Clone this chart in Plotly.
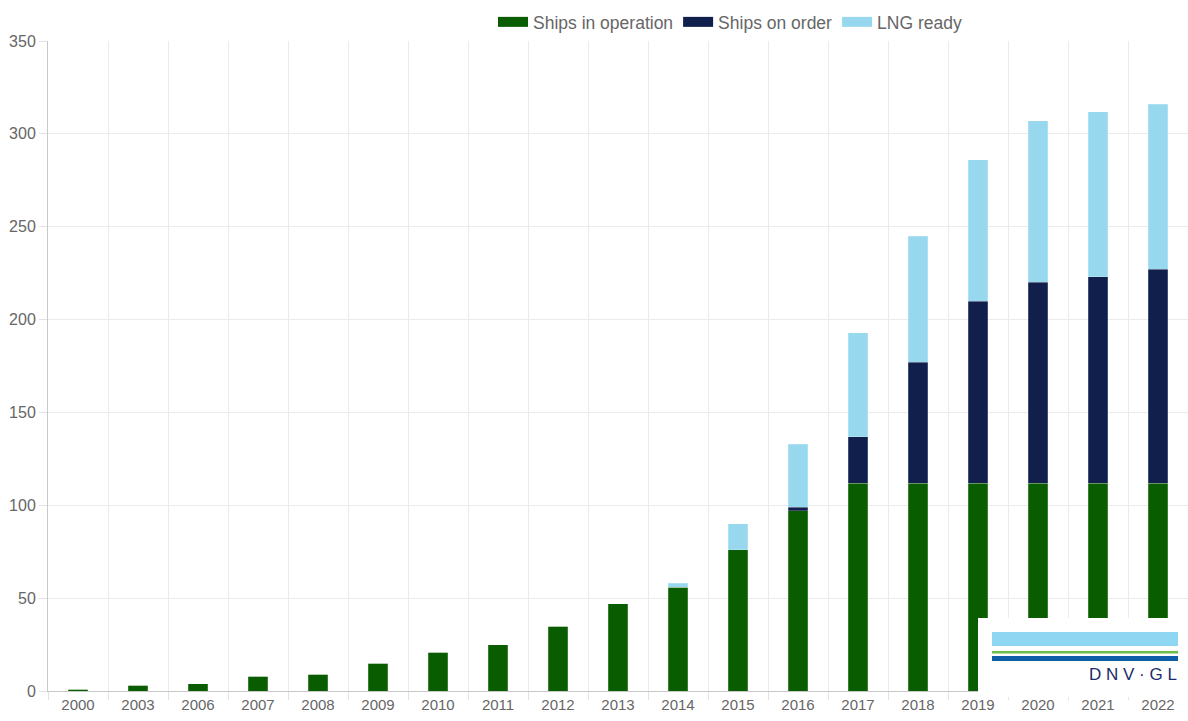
import plotly.graph_objects as go

years = ["2000", "2003", "2006", "2007", "2008", "2009", "2010", "2011", "2012", "2013",
         "2014", "2015", "2016", "2017", "2018", "2019", "2020", "2021", "2022"]
in_operation = [1, 3, 4, 8, 9, 15, 21, 25, 35, 47, 56, 76, 97, 112, 112, 112, 112, 112, 112]
on_order = [0, 0, 0, 0, 0, 0, 0, 0, 0, 0, 0, 0, 2, 25, 65, 98, 108, 111, 115]
lng_ready = [0, 0, 0, 0, 0, 0, 0, 0, 0, 0, 2, 14, 34, 56, 68, 76, 87, 89, 89]

series_names = ["Ships in operation", "Ships on order", "LNG ready"]
series_colors = ["#0a5c00", "#101f4c", "#98d8ef"]
series_values = [in_operation, on_order, lng_ready]

FONT = "Liberation Sans, Arial, sans-serif"
TXT = "#666666"

fig = go.Figure()
for name, color, vals in zip(series_names, series_colors, series_values):
    fig.add_trace(go.Bar(
        x=years, y=vals, name=name, legendgroup=name, showlegend=False,
        marker=dict(color=color, line=dict(color="rgba(255,255,255,0.35)", width=0.6)),
        hoverinfo="x+y+name",
    ))
# legend swatches (wide rectangles, as in the reference)
for name, color in zip(series_names, series_colors):
    fig.add_trace(go.Scatter(
        x=[None], y=[None], name=name, legendgroup=name, mode="lines",
        line=dict(color=color, width=16), showlegend=True,
    ))

# geometry helpers (pixels -> paper)
L, R, T, B = 48, 0, 41, 30
W, H = 1188, 721
pw, ph = W - L - R, H - T - B
def px(x):
    return (x - L) / pw
def py(y):
    return (H - B - y) / ph

shapes = [
    dict(type="rect", xref="paper", yref="paper", x0=px(978), x1=px(1192), y0=py(697), y1=py(618),
         fillcolor="white", line=dict(width=0), layer="above"),
    dict(type="rect", xref="paper", yref="paper", x0=px(992), x1=px(1178), y0=py(646), y1=py(632),
         fillcolor="#8fd6f2", line=dict(width=0), layer="above"),
    dict(type="rect", xref="paper", yref="paper", x0=px(992), x1=px(1178), y0=py(653.5), y1=py(651),
         fillcolor="#6cc04a", line=dict(width=0), layer="above"),
    dict(type="rect", xref="paper", yref="paper", x0=px(992), x1=px(1178), y0=py(661), y1=py(656),
         fillcolor="#0f5fa8", line=dict(width=0), layer="above"),
]

fig.update_layout(
    width=W, height=H,
    margin=dict(l=L, r=R, t=T, b=B, pad=0),
    paper_bgcolor="white", plot_bgcolor="white",
    barmode="stack", bargap=0.667,
    font=dict(family=FONT, color=TXT, size=15),
    shapes=shapes,
    annotations=[dict(
        text="D N V · G L", xref="paper", yref="paper",
        x=px(1179), y=py(674), xanchor="right", yanchor="middle", showarrow=False,
        font=dict(family=FONT, size=17, color="#1c2b6b"),
    )],
    legend=dict(
        orientation="h", x=px(730), xanchor="center", y=py(22), yanchor="middle",
        traceorder="normal", font=dict(family=FONT, size=17.5, color=TXT),
        bgcolor="rgba(0,0,0,0)", itemwidth=30,
    ),
    xaxis=dict(
        type="category", categoryorder="array", categoryarray=years,
        tickson="boundaries", ticks="outside", ticklen=8, tickcolor="#e3e3e3",
        showgrid=True, gridcolor="#ebebeb", gridwidth=1,
        showline=True, linecolor="#c8c8c8", linewidth=1,
        tickfont=dict(family=FONT, size=15, color=TXT),
        range=[-0.5, 18.5],
    ),
    yaxis=dict(
        range=[0, 350], dtick=50, ticks="outside", ticklen=8, tickcolor="#e3e3e3",
        showgrid=True, gridcolor="#ebebeb", gridwidth=1, zeroline=False,
        showline=True, linecolor="#c8c8c8", linewidth=1,
        tickfont=dict(family=FONT, size=16, color=TXT),
    ),
)

fig.write_html("out.html", config={"displayModeBar": False},
               post_script="document.body.style.margin='0';")
